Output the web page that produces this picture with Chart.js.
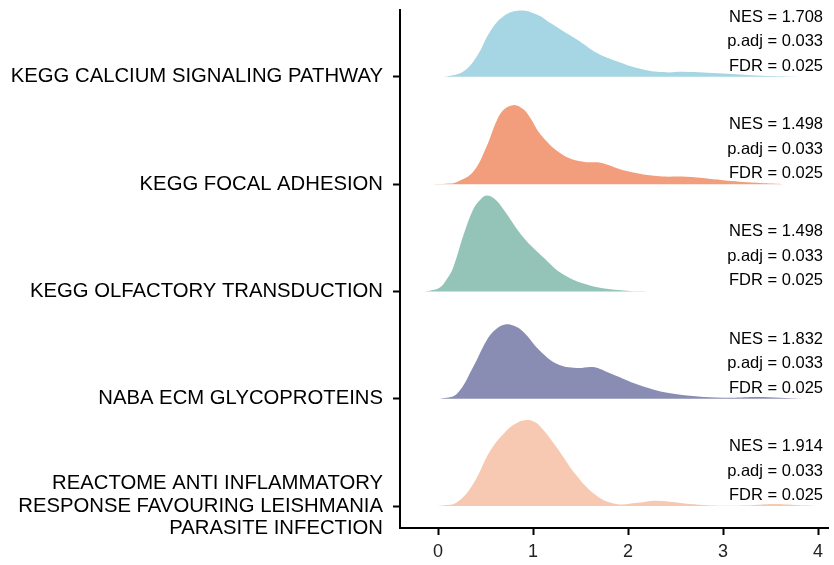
<!DOCTYPE html>
<html>
<head>
<meta charset="utf-8">
<style>
  html, body { margin: 0; padding: 0; background: #fff; }
  #chart { display: block; }
</style>
<script src="https://cdn.jsdelivr.net/npm/chart.js@4/dist/chart.umd.min.js"></script>
</head>
<body>
<canvas id="chart" width="834" height="565"></canvas>
<script>
// pathway names, bottom row first
const categories = [
  ['REACTOME ANTI INFLAMMATORY', 'RESPONSE FAVOURING LEISHMANIA', 'PARASITE INFECTION'],
  'NABA ECM GLYCOPROTEINS',
  'KEGG OLFACTORY TRANSDUCTION',
  'KEGG FOCAL ADHESION',
  'KEGG CALCIUM SIGNALING PATHWAY'
];
const colors = ['#F7C8B2', '#8A8DB3', '#94C4B8', '#F29E7C', '#A6D5E3'];

const nesValues = ['1.914', '1.832', '1.498', '1.498', '1.708'];
const padjValues = ['0.033', '0.033', '0.033', '0.033', '0.033'];
const fdrValues = ['0.025', '0.025', '0.025', '0.025', '0.025'];

const xTicks = [0, 1, 2, 3, 4];

// density curves (height in row units)
const reactomeX = [-0.08, 0.05, 0.2, 0.37, 0.55, 0.72, 0.82, 0.93, 1.0, 1.07, 1.25, 1.46, 1.67, 1.88, 2.1, 2.3, 2.65, 3.0, 3.3, 3.52, 3.8, 4.05];
const reactomeD = [0, 0.005, 0.034, 0.205, 0.515, 0.702, 0.77, 0.801, 0.79, 0.748, 0.546, 0.282, 0.096, 0.019, 0.03, 0.049, 0.019, 0.002, 0.008, 0.019, 0.008, 0];

const nabaX = [-0.08, 0.05, 0.2, 0.37, 0.51, 0.6, 0.705, 0.8, 0.9, 1.07, 1.25, 1.46, 1.63, 1.78, 2.13, 2.48, 3.0, 3.35, 3.84];
const nabaD = [0, 0.005, 0.047, 0.295, 0.54, 0.64, 0.692, 0.68, 0.622, 0.45, 0.326, 0.286, 0.295, 0.249, 0.124, 0.047, 0.009, 0.016, 0];

const olfactoryX = [-0.19, -0.1, 0.02, 0.09, 0.16, 0.27, 0.37, 0.44, 0.51, 0.6, 0.69, 0.9, 1.11, 1.32, 1.6, 1.95, 2.2];
const olfactoryD = [0, 0.005, 0.037, 0.11, 0.224, 0.53, 0.764, 0.85, 0.895, 0.86, 0.764, 0.503, 0.317, 0.158, 0.056, 0.009, 0];

const focalX = [-0.05, 0.08, 0.2, 0.37, 0.51, 0.62, 0.7, 0.79, 0.87, 0.94, 1.1, 1.32, 1.53, 1.71, 1.95, 2.3, 2.62, 3.0, 3.35, 3.63];
const focalD = [0, 0.004, 0.021, 0.115, 0.348, 0.596, 0.7, 0.736, 0.715, 0.659, 0.441, 0.27, 0.208, 0.199, 0.13, 0.075, 0.068, 0.037, 0.012, 0];

const calciumX = [-0.05, 0.1, 0.27, 0.41, 0.55, 0.69, 0.86, 1.04, 1.18, 1.32, 1.49, 1.67, 1.88, 2.16, 2.4, 2.58, 3.0, 3.35, 3.81];
const calciumD = [0, 0.006, 0.052, 0.192, 0.425, 0.565, 0.618, 0.581, 0.503, 0.425, 0.332, 0.224, 0.145, 0.068, 0.042, 0.047, 0.031, 0.012, 0];

const curveX = [reactomeX, nabaX, olfactoryX, focalX, calciumX];
const curveD = [reactomeD, nabaD, olfactoryD, focalD, calciumD];

const FONT = '"Liberation Sans", Arial, Helvetica, sans-serif';

// row i sits on baseline i + 1
const datasets = curveX.map((xs, i) => ({
  label: Array.isArray(categories[i]) ? categories[i].join(' ') : categories[i],
  data: xs.map((x, j) => ({ x: x, y: i + 1 + curveD[i][j] })),
  backgroundColor: colors[i],
  borderWidth: 0,
  pointRadius: 0,
  tension: 0.4,
  fill: { value: i + 1 },
  order: i
}));

// NES / p.adj / FDR text over each ridge
const statsPlugin = {
  id: 'stats',
  afterDatasetsDraw(chart) {
    const ctx = chart.ctx;
    const yScale = chart.scales.y;
    const x = chart.chartArea.right - 5;
    ctx.save();
    ctx.font = '16.5px ' + FONT;
    ctx.fillStyle = '#000';
    ctx.textAlign = 'right';
    ctx.textBaseline = 'alphabetic';
    categories.forEach((c, i) => {
      const base = yScale.getPixelForValue(i + 1);
      ctx.fillText('NES = ' + nesValues[i], x, base - 55);
      ctx.fillText('p.adj = ' + padjValues[i], x, base - 30.5);
      ctx.fillText('FDR = ' + fdrValues[i], x, base - 6);
    });
    ctx.restore();
  }
};

new Chart(document.getElementById('chart').getContext('2d'), {
  type: 'line',
  data: { datasets: datasets },
  options: {
    responsive: false,
    animation: false,
    layout: { padding: { top: 10, right: 6, left: 0, bottom: 0 } },
    plugins: {
      legend: { display: false },
      tooltip: { enabled: false }
    },
    scales: {
      x: {
        type: 'linear',
        min: -0.4,
        max: 4.105,
        afterBuildTicks: (scale) => { scale.ticks = xTicks.map(v => ({ value: v })); },
        afterFit: (scale) => { scale.height = 37; scale.paddingLeft = 0; scale.paddingRight = 0; },
        grid: { drawOnChartArea: false, drawTicks: true, tickLength: 7, tickColor: '#000', tickWidth: 2 },
        border: { display: true, color: '#000', width: 2 },
        ticks: { color: '#222', font: { family: FONT, size: 18 }, padding: 6, maxRotation: 0 }
      },
      y: {
        type: 'linear',
        min: 0.795,
        max: 5.623,
        afterBuildTicks: (scale) => { scale.ticks = categories.map((c, i) => ({ value: i + 1 })); },
        afterFit: (scale) => { scale.width = 400; scale.paddingTop = 0; scale.paddingBottom = 0; },
        grid: { drawOnChartArea: false, drawTicks: true, tickLength: 7, tickColor: '#000', tickWidth: 2 },
        border: { display: true, color: '#000', width: 2 },
        ticks: {
          color: '#000',
          font: { family: FONT, size: 20.3, lineHeight: 1.12 },
          padding: 10,
          callback: (value) => categories[Math.round(value) - 1]
        }
      }
    }
  },
  plugins: [statsPlugin]
});
</script>
</body>
</html>
